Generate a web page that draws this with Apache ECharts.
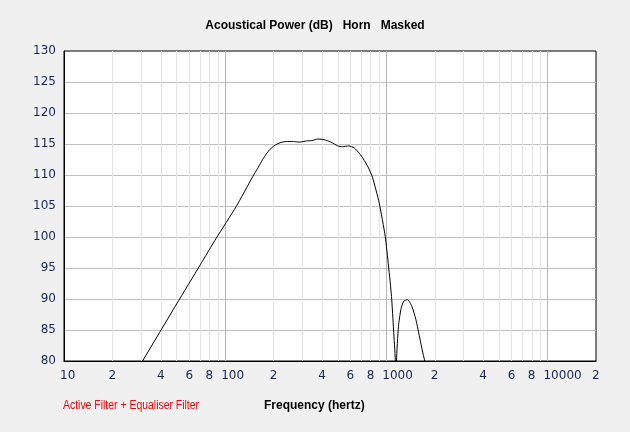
<!DOCTYPE html>
<html><head><meta charset="utf-8">
<script src="https://cdn.jsdelivr.net/npm/echarts@6/dist/echarts.min.js"></script>
<style>html,body{margin:0;padding:0;background:#f0f0f0}#c{width:630px;height:432px}</style>
</head><body><div id="c"></div>
<script>
// ---- data ----
const freqHz = [20, 30.7, 50, 70, 88, 117, 148, 160, 171, 180, 190, 200, 210, 222, 239, 265, 288, 320, 345, 375, 412, 454, 499, 535, 584, 633, 680, 720, 770, 821, 903, 984, 1032, 1077, 1109, 1136, 1146, 1157, 1190, 1231, 1279, 1353, 1441, 1525, 1621, 1725, 2000];
const powerDb = [72, 80, 89.2, 95.5, 99.8, 104.9, 109.7, 111.2, 112.5, 113.4, 114.15, 114.65, 115.0, 115.25, 115.4, 115.4, 115.3, 115.5, 115.55, 115.8, 115.7, 115.3, 114.7, 114.55, 114.7, 114.35, 113.5, 112.6, 111.3, 109.6, 105.5, 100.1, 95.3, 90.4, 85.0, 80.2, 60, 80.0, 85.6, 88.3, 89.6, 89.9, 88.8, 86.7, 83.4, 80.2, 75];
const minorGridHz = [20,30,40,50,60,70,80,90,200,300,400,500,600,700,800,900,2000,3000,4000,5000,6000,7000,8000,9000];
const xTickHz = [10,20,40,60,80,100,200,400,600,800,1000,2000,4000,6000,8000,10000,20000];
const xTickText = ['10','2','4','6','8','100','2','4','6','8','1000','2','4','6','8','10000','2'];
const yMin = 80, yMax = 130, yStep = 5;
const xMin = 10, xMax = 20000;
const titleText = 'Acoustical Power (dB)   Horn   Masked';
const filterText = 'Active Filter + Equaliser Filter';
const xAxisTitle = 'Frequency (hertz)';

// ---- chart ----
const chart = echarts.init(document.getElementById('c'), null, {renderer: 'canvas'});
const labelFont = {fontFamily: '"DejaVu Sans"', fontSize: 12, color: '#14285a'};

const markData = [];
minorGridHz.forEach(v => markData.push({xAxis: v, lineStyle: {color: '#e4e4e4', width: 1, type: 'solid'}, label: {show: false}}));
xTickHz.forEach((v, i) => markData.push({
  xAxis: v,
  lineStyle: {color: 'rgba(255,255,255,0)', width: 1},
  label: Object.assign({show: true, position: 'start', distance: 9, align: 'left', offset: [-4, 0], formatter: xTickText[i]}, labelFont)
}));

chart.setOption({
  backgroundColor: '#f0f0f0',
  animation: false,
  grid: {left: 64, right: 34, top: 51, bottom: 71, show: true, backgroundColor: '#ffffff', borderColor: '#000000', borderWidth: 1, containLabel: false},
  xAxis: {
    type: 'log', logBase: 10, min: xMin, max: xMax,
    axisLine: {show: true, lineStyle: {color: '#000'}}, axisTick: {show: false}, axisLabel: {show: false},
    splitLine: {show: true, showMinLine: false, showMaxLine: false, lineStyle: {color: '#b8b8b8', width: 1}}
  },
  yAxis: {
    type: 'value', min: yMin, max: yMax, interval: yStep,
    axisLine: {show: true, lineStyle: {color: '#000'}}, axisTick: {show: false},
    axisLabel: Object.assign({margin: 8}, labelFont),
    splitLine: {show: true, showMinLine: false, showMaxLine: false, lineStyle: {color: '#c0c0c0', width: 1}}
  },
  graphic: [
    {type: 'text', style: {x: 315, y: 26, text: titleText, align: 'center', verticalAlign: 'middle', font: 'bold 12px "Liberation Sans"', fill: '#000'}},
    {type: 'text', x: 63, y: 406, scaleX: 0.87, style: {x: 0, y: 0, text: filterText, align: 'left', verticalAlign: 'middle', font: '12px "Liberation Sans"', fill: '#ff0000'}},
    {type: 'text', style: {x: 264, y: 406, text: xAxisTitle, align: 'left', verticalAlign: 'middle', font: 'bold 12px "Liberation Sans"', fill: '#000'}}
  ],
  series: [{
    type: 'line',
    data: freqHz.map((f, i) => [f, powerDb[i]]),
    showSymbol: false,
    smooth: 0.2,
    clip: true,
    z: 3,
    lineStyle: {color: '#000', width: 1},
    markLine: {silent: true, symbol: ['none', 'none'], z: 1, animation: false, data: markData}
  }]
});
</script></body></html>
